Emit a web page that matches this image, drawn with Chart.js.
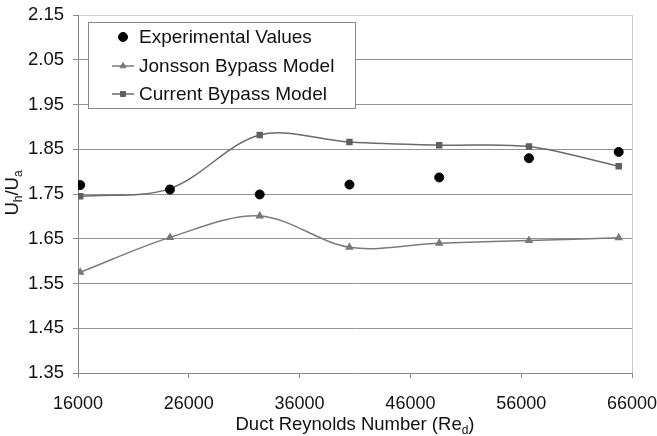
<!DOCTYPE html>
<html>
<head>
<meta charset="utf-8">
<script src="https://cdn.jsdelivr.net/npm/chart.js@4.4.1/dist/chart.umd.min.js"></script>
<style>
    html, body { margin: 0; padding: 0; background: #fff; }
    #chart { display: block; }
</style>
</head>
<body>
<canvas id="chart" width="657" height="436"></canvas>
<script>
// Duct Reynolds numbers (x) for each measurement
const reynolds = [16200, 24300, 32400, 40500, 48600, 56700, 64800];

// Uh/Ua ratio for each series
const experimental = [1.770, 1.760, 1.749, 1.771, 1.787, 1.830, 1.844];
const jonsson = [1.575, 1.653, 1.701, 1.631, 1.640, 1.646, 1.652];
const current = [1.745, 1.762, 1.882, 1.866, 1.859, 1.856, 1.812];

const seriesNames = ['Experimental Values', 'Jonsson Bypass Model', 'Current Bypass Model'];

const FONT = "'Liberation Sans', Arial, sans-serif";

function toPoints(values) {
    return values.map((v, i) => ({ x: reynolds[i], y: v }));
}

// Legend box drawn inside the plot, top left
const boxLegend = {
    id: 'boxLegend',
    afterDraw(chart) {
        const ctx = chart.ctx;
        const left = 88.5, top = 22.5, right = 355.5, bottom = 108.5;
        ctx.save();
        ctx.fillStyle = '#fff';
        ctx.fillRect(left, top, right - left, bottom - top);
        ctx.strokeStyle = '#8a8a8a';
        ctx.lineWidth = 1;
        ctx.strokeRect(left, top, right - left, bottom - top);

        const rows = [37, 66, 94];
        chart.data.datasets.forEach((ds, i) => {
            const y = rows[i];
            if (ds.showLine !== false) {
                ctx.strokeStyle = ds.borderColor;
                ctx.lineWidth = ds.borderWidth;
                ctx.beginPath();
                ctx.moveTo(112, y);
                ctx.lineTo(134, y);
                ctx.stroke();
            }
            ctx.fillStyle = ds.pointBackgroundColor;
            ctx.strokeStyle = ds.pointBorderColor;
            ctx.lineWidth = 1;
            Chart.helpers.drawPoint(ctx, {
                pointStyle: ds.pointStyle,
                radius: ds.pointRadius,
                borderWidth: 1,
                rotation: 0
            }, 123, y);
            ctx.fillStyle = '#111';
            ctx.font = '19px ' + FONT;
            ctx.textBaseline = 'middle';
            ctx.textAlign = 'left';
            ctx.fillText(ds.label, 139, y + 1);
        });
        ctx.restore();
    }
};

// Axis titles with subscripts, plus the light right border
const axisTitles = {
    id: 'axisTitles',
    afterDraw(chart) {
        const ctx = chart.ctx;
        const area = chart.chartArea;
        ctx.save();

        ctx.strokeStyle = '#c8c8c8';
        ctx.lineWidth = 1;
        ctx.beginPath();
        ctx.moveTo(Math.round(area.right) + 0.5, area.top);
        ctx.lineTo(Math.round(area.right) + 0.5, area.bottom);
        ctx.stroke();

        ctx.fillStyle = '#111';
        ctx.textBaseline = 'alphabetic';
        ctx.textAlign = 'left';

        // x title: Duct Reynolds Number (Re_d)
        const big = '18.5px ' + FONT;
        const small = '12px ' + FONT;
        const parts = [
            { t: 'Duct Reynolds Number (Re', f: big, dy: 0 },
            { t: 'd', f: small, dy: 4 },
            { t: ')', f: big, dy: 0 }
        ];
        drawParts(ctx, parts, 355, 430);

        // y title: U_h/U_a, rotated
        ctx.translate(18, 193);
        ctx.rotate(-Math.PI / 2);
        const yparts = [
            { t: 'U', f: big, dy: 0 },
            { t: 'h', f: small, dy: 4 },
            { t: '/U', f: big, dy: 0 },
            { t: 'a', f: small, dy: 4 }
        ];
        drawParts(ctx, yparts, 0, 0);
        ctx.restore();
    }
};

function drawParts(ctx, parts, cx, baseY) {
    let total = 0;
    parts.forEach(p => {
        ctx.font = p.f;
        p.w = ctx.measureText(p.t).width;
        total += p.w;
    });
    let x = cx - total / 2;
    parts.forEach(p => {
        ctx.font = p.f;
        ctx.fillText(p.t, x, baseY + p.dy);
        x += p.w;
    });
}

const ctx = document.getElementById('chart').getContext('2d');
const chart = new Chart(ctx, {
    type: 'line',
    data: {
        datasets: [
            {
                label: seriesNames[0],
                data: toPoints(experimental),
                showLine: false,
                pointStyle: 'circle',
                pointRadius: 4.5,
                pointBackgroundColor: '#000',
                pointBorderColor: '#000',
                borderColor: '#000',
                borderWidth: 1
            },
            {
                label: seriesNames[1],
                data: toPoints(jonsson),
                borderColor: '#7a7a7a',
                borderWidth: 1.5,
                tension: 0.33,
                pointStyle: 'triangle',
                pointRadius: 3.5,
                pointBackgroundColor: '#777',
                pointBorderColor: '#777'
            },
            {
                label: seriesNames[2],
                data: toPoints(current),
                borderColor: '#6a6a6a',
                borderWidth: 1.5,
                tension: 0.33,
                pointStyle: 'rect',
                pointRadius: 3.5,
                pointBackgroundColor: '#606060',
                pointBorderColor: '#606060'
            }
        ]
    },
    options: {
        responsive: false,
        animation: false,
        layout: { padding: { left: 0, top: 15, right: 25, bottom: 0 } },
        plugins: {
            legend: { display: false },
            tooltip: { enabled: false }
        },
        scales: {
            x: {
                type: 'linear',
                min: 16000,
                max: 66000,
                afterFit: scale => {
                    scale.height = 63;
                    scale.paddingLeft = 0;
                    scale.paddingRight = 0;
                },
                ticks: {
                    stepSize: 10000,
                    padding: 15,
                    color: '#111',
                    font: { size: 18, family: FONT },
                    maxRotation: 0,
                    callback: v => String(v)
                },
                grid: {
                    drawOnChartArea: false,
                    drawTicks: true,
                    tickLength: 5,
                    tickColor: '#888'
                },
                border: { display: true, color: '#888' }
            },
            y: {
                min: 1.35,
                max: 2.15,
                afterFit: scale => {
                    scale.width = 78;
                    scale.paddingTop = 0;
                    scale.paddingBottom = 0;
                },
                ticks: {
                    stepSize: 0.1,
                    padding: 9,
                    color: '#111',
                    font: { size: 18.5, family: FONT },
                    callback: v => Number(v).toFixed(2)
                },
                grid: {
                    color: c => (c.index === c.scale.ticks.length - 1 ? '#cfcfcf' : '#939393'),
                    tickLength: 5,
                    tickColor: '#888'
                },
                border: { display: true, color: '#888' }
            }
        }
    },
    plugins: [boxLegend, axisTitles]
});
</script>
</body>
</html>
